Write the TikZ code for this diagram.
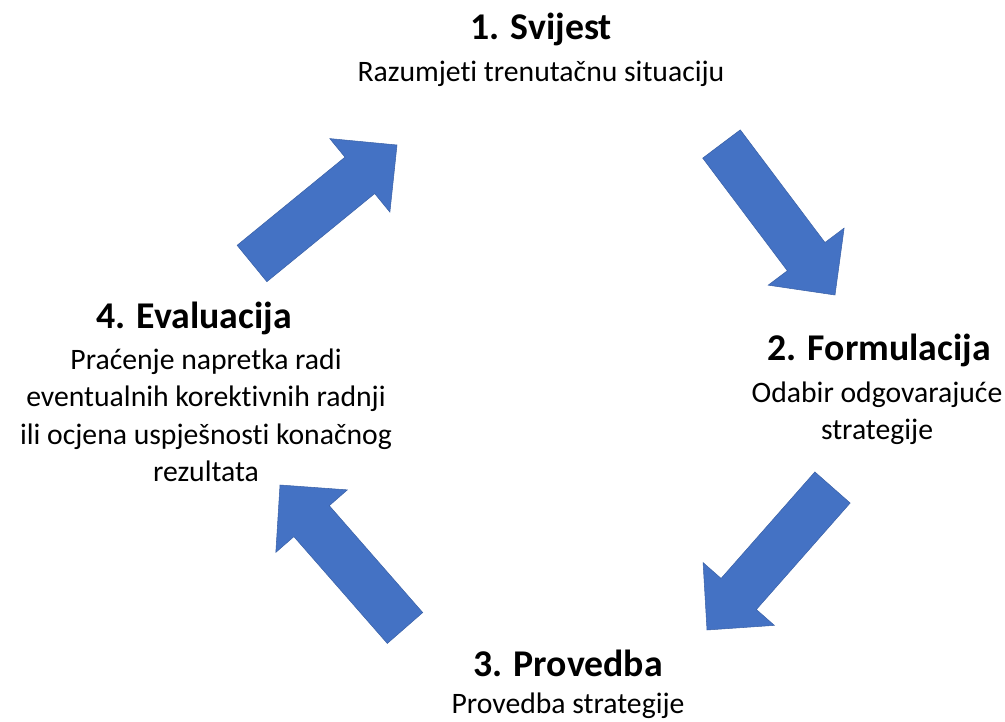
\documentclass[tikz,border=0pt]{standalone}
\usepackage{fontspec}
\setmainfont[Ligatures=CommonOff]{Carlito}
\usetikzlibrary{calc}
\definecolor{arrowblue}{HTML}{4472C4}
\tikzset{
  blockarrow/.style={fill=arrowblue, draw=arrowblue!85!black, line width=.3pt, line join=miter},
  title/.style={font={\fontsize{21.5}{25}\bfseries\selectfont}, inner sep=0pt},
  body/.style={font={\fontsize{16.9}{21.3}\selectfont}, align=center, inner sep=0pt}
}
% block arrow from tail middle #1 to tip #2
\newcommand{\blockarrow}[2]{%
  \path ($(#2)!0.96cm!(#1)$) coordinate (hb);
  \draw[blockarrow] ($(#1)!0.47cm!90:(#2)$) -- ($(hb)!0.47cm!90:(#2)$)
    -- ($(hb)!0.95cm!90:(#2)$) -- (#2) -- ($(hb)!0.95cm!-90:(#2)$)
    -- ($(hb)!0.47cm!-90:(#2)$) -- ($(#1)!0.47cm!-90:(#2)$) -- cycle;
}
\begin{document}
\begin{tikzpicture}[x=0.02cm, y=-0.02cm]
  \useasboundingbox (0,0) rectangle (1005,722);
    %% stage 1
    \node[title] (svijest) at (541,29) {1. Svijest};
    \node[body] (svijestTxt) at (541,74) {Razumjeti trenutačnu situaciju};
    %% stage 2
    \node[title] (formulacija) at (879,350) {2. Formulacija};
    \node[body] (formulacijaTxt) at (877,413) {Odabir odgovarajuće\\strategije};
    %% stage 3
    \node[title] (provedba) at (568,663) {3. Provedba};
    \node[body] (provedbaTxt) at (568,706) {Provedba strategije};
    %% stage 4
    \node[title] (evaluacija) at (194,318) {4. Evaluacija};
    \node[body] (evaluacijaTxt) at (206,415.5) {Praćenje napretka radi\\eventualnih korektivnih radnji\\ili ocjena uspješnosti konačnog\\rezultata};

    %% arrows
    \coordinate (a1s) at (252,263.5);
    \coordinate (a1e) at (397,145);
    \coordinate (a2s) at (721.5,144);
    \coordinate (a2e) at (835,295);
    \coordinate (a3s) at (832.5,487.5);
    \coordinate (a3e) at (707,630);
    \coordinate (a4s) at (405,628);
    \coordinate (a4e) at (280,485);
    \blockarrow{a1s}{a1e}
    \blockarrow{a2s}{a2e}
    \blockarrow{a3s}{a3e}
    \blockarrow{a4s}{a4e}
\end{tikzpicture}
\end{document}
